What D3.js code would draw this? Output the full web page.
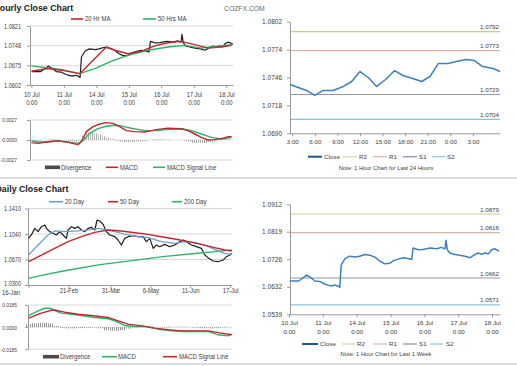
<!DOCTYPE html>
<html>
<head>
<meta charset="utf-8">
<script src="https://cdn.jsdelivr.net/npm/d3@7/dist/d3.min.js"></script>
<style>
html,body{margin:0;padding:0;background:#fff;}
svg{display:block;}
</style>
</head>
<body>
<svg id="chart" width="517" height="366"></svg>
<script>
// ================= DATA =================
// Hourly close (hours since 10 Jul 0:00) - drives the hourly chart and the 1-week chart
const hourlyHours = [0.5,7,10,12.5,15,18.4,22,25.5,28,30,32.6,35,36,37,39.7,43,47,50,54,57.4,61,64.5,68,71.6,74,77.5,81,84.6,87,88,91.7,95,100,104.7,108,110.6,111.3,112.3,114,117.7,121,124.8,128.4,132,134.3,136.6,139,141.4,143.7,146,149];
const hourlyClose = [1.0652,1.0652,1.0663,1.0672,1.0665,1.0652,1.0650,1.0641,1.0638,1.0635,1.0638,1.0634,1.0630,1.0706,1.0728,1.0736,1.0733,1.0736,1.0742,1.0739,1.0733,1.0719,1.0710,1.0712,1.0721,1.0726,1.0731,1.0728,1.0725,1.0764,1.0758,1.0759,1.0764,1.0761,1.0766,1.0761,1.0790,1.0758,1.0747,1.0742,1.0739,1.0736,1.0731,1.0742,1.0747,1.0742,1.0747,1.0744,1.0758,1.0761,1.0753];
const ma20HHours = [0,12.3,22,35.7,55.4,61.6,71.4,81,91.2,101,110.6,120.7,130.6,140.2,148];
const ma20HValues = [1.0653,1.0663,1.0657,1.0644,1.0743,1.0731,1.0718,1.0727,1.0747,1.0759,1.0764,1.0752,1.0739,1.0743,1.0749];
const ma50HHours = [0,12.3,22,35.7,46.8,58.9,71.4,86.2,101,113.3,125.4,135.5,148];
const ma50HValues = [1.0673,1.0665,1.0660,1.0644,1.0663,1.0690,1.0712,1.0731,1.0743,1.0749,1.0739,1.0745,1.0752];
const macdHHours = [0,4.9,12.3,19.7,27.1,34.5,36.9,40.6,45.6,50.5,55.4,60.3,65.3,70.2,76.4,83.8,88.7,93.6,101,110.8,115.8,120.7,125.6,130.6,135.5,141.7,145.3,148];
const macdHValues = [-0.00036,-0.00045,-0.00023,-0.00009,-0.00032,-0.00063,-0.00023,0.00113,0.0018,0.00216,0.00234,0.00225,0.0018,0.00126,0.00113,0.00108,0.00126,0.00144,0.00158,0.00153,0.00126,0.00081,0.00036,0,0.00005,0.00023,0.00045,0.00045];
const signalHHours = [0,4.9,12.3,19.7,27.1,34.5,38.1,43.1,49.2,55.4,61.5,66.4,73.8,83.8,93.6,101,112,118.2,125.6,133,140.4,145.3,148];
const signalHValues = [-0.00009,-0.00027,-0.00027,-0.00014,-0.00027,-0.00045,-0.00009,0.0009,0.00153,0.00185,0.0020,0.0019,0.00158,0.00126,0.00126,0.00144,0.00149,0.00126,0.00081,0.00036,0.00014,0.00027,0.00036];
const divHHours = [0,3,6,9,12,15,18,21,24,27,30,33,36,39,42,45,48,51,54,57,60,63,66,69,72,75,78,81,84,87,90,93,96,99,102,105,108,111,114,117,120,123,126,129,132,135,138,141,144,147];
const divHValues = [-0.0002,-0.0002,-0.0001,0,0.00005,0.0001,0.00005,0,-0.00005,-0.0001,-0.00015,-0.0002,-0.0001,0.0005,0.001,0.0011,0.0009,0.0007,0.0005,0.0003,0.0001,-0.0001,-0.0002,-0.0003,-0.0003,-0.0003,-0.0002,-0.0002,-0.0001,0,0.0001,0.0001,0.0001,0.00005,0.00005,0,0,0,-0.0001,-0.0002,-0.0004,-0.0004,-0.0004,-0.0004,-0.0003,-0.0002,0,0.0001,0.0002,0.0001];
const hourTickHours = [0,24,48,72,96,120,144];
const hourTickDays = ["10 Jul","11 Jul","14 Jul","15 Jul","16 Jul","17 Jul","18 Jul"];
const hourTickTime = "0:00";
const hourlyYTicks = [1.0602,1.0675,1.0748,1.0821];
const macdHYTicks = [-0.0027,0,0.0027];

// Daily (days since 16-Jan)
const closeDDays = [0,2.5,5.6,8.6,11.6,14.6,16.1,19.1,22.1,25.1,28.2,31.2,34.1,35.7,38.7,41.7,44.7,47.7,50.8,53.7,56.7,59.8,61.9,64.3,67.3,70.3,73.4,77.9,80.8,83.8,86.9,89.9,94.4,98.9,103.4,106.4,109.5,112.5,115.5,118.5,123,127.5,132,136.6,139.6,142.5,147,151.6,156,159.2,162,166.7,171,175.7,178.7,181.8,183.5];
const closeDValues = [1.0977,1.1026,1.1122,1.1074,1.1146,1.1171,1.1122,1.1074,1.1050,1.1026,1.1074,1.1026,1.0977,1.1098,1.1146,1.1122,1.1146,1.1098,1.1074,1.1122,1.1137,1.1098,1.1243,1.1229,1.1180,1.1074,1.1026,1.1001,1.0953,1.0880,1.0977,1.1001,1.1016,1.1001,1.1001,1.0929,1.0977,1.0832,1.0880,1.0856,1.0890,1.0856,1.0880,1.0929,1.0953,1.0929,1.0880,1.0856,1.0832,1.0735,1.0697,1.0648,1.0638,1.0662,1.0711,1.0735,1.0759];
const ma20DDays = [0,8.6,17.6,23.6,32.6,44.7,53.7,62.7,68.8,77.8,89.9,98.9,107.9,120,132,141,150,159,168,177,183.5];
const ma20DValues = [1.0735,1.0880,1.1026,1.1084,1.1074,1.1084,1.1098,1.1122,1.1108,1.1074,1.1026,1.1001,1.0987,1.0929,1.0905,1.0929,1.0919,1.0880,1.0817,1.0759,1.0745];
const ma50DDays = [0,11.6,23.6,35.7,47.7,59.8,71.8,83.8,95.9,107.9,120,132,144,156,168,177,183.5];
const ma50DValues = [1.0638,1.0735,1.0832,1.0929,1.1001,1.1064,1.1098,1.1084,1.1059,1.1035,1.1001,1.0967,1.0929,1.0890,1.0842,1.0808,1.0793];
const ma200DDays = [0,14.9,33.9,64.6,91.7,123.3,153,168.5,183.5];
const ma200DValues = [1.0397,1.0450,1.0510,1.0595,1.0650,1.0715,1.0760,1.0785,1.0810];
const macdDDays = [0,8.6,14.6,19.1,23.6,29.7,35.7,47.7,59.8,71.8,77.8,86.9,95.9,105,117,129,141,153,162,171,180,183.5];
const macdDValues = [0.0097,0.0136,0.0158,0.0158,0.0139,0.0117,0.0111,0.0097,0.0081,0.0070,0.0053,0.0014,0.0006,0.0006,-0.0017,-0.0031,-0.0036,-0.0036,-0.0036,-0.0064,-0.0072,-0.0058];
const signalDDays = [0,11.6,22.1,32.7,44.7,56.7,71.8,80.8,89.9,102,114,126,138,150,162,174,183.5];
const signalDValues = [0.0075,0.0117,0.0145,0.0125,0.0108,0.0097,0.0081,0.0053,0.0025,0.0011,-0.0008,-0.0022,-0.0031,-0.0031,-0.0031,-0.0050,-0.0064];
const divDDays = [0,5,10,15,20,25,30,35,40,45,50,55,60,65,70,75,80,85,90,95,100,105,110,115,120,125,130,135,140,145,150,155,160,165,170,175,180];
const divDValues = [0.0025,0.003,0.0035,0.0038,0.003,0.001,-0.0008,-0.001,-0.001,-0.0008,-0.0008,-0.0006,-0.0004,-0.001,-0.0025,-0.003,-0.003,-0.0025,-0.0012,-0.0004,0.0004,0.0006,0.0004,0,-0.0004,-0.0004,-0.0002,0.0002,0.0003,0.0001,-0.0004,-0.0008,-0.001,-0.001,-0.0008,-0.0005,-0.0002];
const dailyTickDays = [0,36,74,110,146,182];
const dailyTickLabels = ["16-Jan","21-Feb","31-Mar","6-May","11-Jun","17-Jul"];
const dailyYTicks = [1.0300,1.0670,1.1040,1.1410];
const macdDYTicks = [-0.0185,0,0.0185];

// Last 24 hours (hours after 3:00)
const last24Hours = [-0.3,1.9,3.0,4.1,5.4,6.8,7.9,9.0,10.1,11.2,12.4,13.6,14.7,16.0,17.2,18.3,19.4,20.7,21.8,23.1,24.2,25.3,26.7,27.6];
const last24Close = [1.0739,1.0733,1.0728,1.0733,1.0733,1.0737,1.0742,1.0752,1.0746,1.0737,1.0744,1.0753,1.0748,1.0745,1.0742,1.0747,1.0760,1.0760,1.0762,1.0764,1.0763,1.0757,1.0755,1.0752];
const last24TickHours = [0,3,6,9,12,15,18,21,24];
const last24TickLabels = ["3:00","6:00","9:00","12:00","15:00","18:00","21:00","0:00","3:00"];
const last24YTicks = [1.0690,1.0718,1.0746,1.0774,1.0802];
const levelNames = ["R2","R1","S1","S2"];
const levels24 = [1.0792,1.0773,1.0729,1.0704];

// Last week
const weekYTicks = [1.0539,1.0632,1.0726,1.0819,1.0912];
const levelsWeek = [1.0879,1.0816,1.0662,1.0571];

// ================= DRAWING =================
const FONT = "'Liberation Sans', Arial, Helvetica, sans-serif";
const SQ = 0.84; // horizontal squeeze of the lettering in the left-hand panels

const TXT = "#404040", AXIS = "#9a9a9a", GRID = "#cdcdcd";
const RED = "#c0282d", GREEN = "#2db36b", BLUE = "#6d9fc8", BLACK = "#1e1e1e";
const CLOSE_BLUE = "#3d80ba";
const LEVEL_COLORS = ["#c9cd8c","#dcb2a4","#9494aa","#86c2de"];
const LEGEND_LEVEL_COLORS = ["#d8d69e","#e2b6a8","#8c8ca6","#8cc6e0"];
const svg = d3.select("#chart");
svg.append("rect").attr("width",517).attr("height",366).attr("fill","#fff");

const defs = svg.append("defs");
function hatch(id, color){
  defs.append("pattern").attr("id",id).attr("width",2).attr("height",4)
    .attr("patternUnits","userSpaceOnUse")
    .append("rect").attr("width",1).attr("height",4).attr("fill",color);
}
hatch("hatchH","#a8a8a8");
hatch("hatchD","#8f8f8f");

// squeeze texts horizontally around the local origin while keeping their anchor point
function squeeze(sel, k){
  sel.each(function(){
    const t = d3.select(this);
    const x = +(t.attr("x") || 0);
    t.attr("x", x / k).attr("transform", `scale(${k},1)`);
    t.selectAll("tspan").each(function(){
      const s = d3.select(this);
      const sx = +(s.attr("x") || 0);
      s.attr("x", sx / k);
    });
  });
}

function text(x,y,s,o={}){
  const t = svg.append("text").attr("x",x).attr("y",y).text(s)
    .attr("fill",o.fill||TXT).attr("text-anchor",o.anchor||"start")
    .style("font-family",FONT).style("font-size",(o.size||6.3)+"px")
    .style("font-weight",o.weight||"normal");
  if (o.sq) squeeze(t, o.sq);
  return t;
}
function styleAxis(g, fs){
  g.select(".domain").attr("stroke",AXIS);
  g.selectAll(".tick line").attr("stroke",AXIS);
  g.selectAll(".tick text").attr("fill",TXT).style("font-family",FONT).style("font-size",fs+"px");
}
function yAxis(y, x0, ticks, labelRight, fs, sq){
  const g = svg.append("g").attr("transform",`translate(${x0},0)`)
    .call(d3.axisLeft(y).tickValues(ticks).tickFormat(d=>d.toFixed(4))
      .tickSize(3).tickSizeOuter(0).tickPadding(x0-labelRight-3));
  styleAxis(g, fs);
  if (sq) squeeze(g.selectAll(".tick text"), sq);
  return g;
}
function xAxis(x, y0, ticks, fmt, fs){
  const g = svg.append("g").attr("transform",`translate(0,${y0})`)
    .call(d3.axisBottom(x).tickValues(ticks).tickFormat(fmt).tickSize(3).tickSizeOuter(0));
  styleAxis(g, fs);
  return g;
}
function twoLine(g, l1, l2, y1, y2){
  g.selectAll(".tick text").each(function(d,i){
    const t = d3.select(this);
    t.text(null).attr("dy",null).attr("y",null);
    t.append("tspan").attr("x",0).attr("y",y1).text(l1[i]);
    t.append("tspan").attr("x",0).attr("y",y2).text(l2);
  });
}
function grid(x, y, vals, color){
  svg.append("g").selectAll("line").data(vals).join("line")
    .attr("x1",x.range()[0]).attr("x2",x.range()[1])
    .attr("y1",d=>y(d)).attr("y2",d=>y(d))
    .attr("stroke",color||GRID).attr("stroke-width",0.8);
}
function series(x, y, xs, vs, color, w){
  const line = d3.line().x(d=>x(d[0])).y(d=>y(d[1]));
  svg.append("path").datum(d3.zip(xs,vs)).attr("d",line)
    .attr("fill","none").attr("stroke",color).attr("stroke-width",w)
    .attr("stroke-linejoin","round");
}
function bars(x, y, xs, vs, fill){
  const w = Math.abs(x(xs[1]) - x(xs[0]));
  svg.append("g").selectAll("rect").data(d3.zip(xs,vs)).join("rect")
    .attr("x",d=>x(d[0])-w/2).attr("width",w)
    .attr("y",d=>Math.min(y(0),y(d[1]))).attr("height",d=>Math.abs(y(d[1])-y(0)))
    .attr("fill",fill);
}
function legend(y, items, fs, sq){
  items.forEach(it=>{
    if(it.bar){
      svg.append("rect").attr("x",it.x1).attr("y",y-1.8).attr("width",it.x2-it.x1).attr("height",3.6).attr("fill",it.color);
    } else {
      svg.append("line").attr("x1",it.x1).attr("x2",it.x2).attr("y1",y).attr("y2",y)
        .attr("stroke",it.color).attr("stroke-width",it.w||1.6);
    }
    text(it.tx, y+2.4, it.label, {size:fs||6.2, sq:sq});
  });
}

// ---------- Hourly Close Chart ----------
text(-6.5, 11, "Hourly Close Chart", {size:8.8, weight:"bold", fill:"#1a1a1a"});
text(224, 11, "COZFX.COM", {size:6.8, fill:"#666"});
legend(19, [
  {x1:71,x2:83,tx:85,label:"20 Hr MA",color:RED},
  {x1:143,x2:156,tx:158,label:"50 Hrs MA",color:GREEN}
], 7.2, SQ);
const xH = d3.scaleLinear().domain([-1,149]).range([30,233]);
const yH = d3.scaleLinear().domain([1.0602,1.0821]).range([85,26]);
grid(xH, yH, hourlyYTicks.slice(1));
yAxis(yH, 30, hourlyYTicks, 21, 6.6, SQ);
const gxH = xAxis(xH, 85, hourTickHours, null, 7);
twoLine(gxH, hourTickDays, hourTickTime, 12.5, 20);
squeeze(gxH.selectAll(".tick text"), SQ);
series(xH, yH, hourlyHours, hourlyClose, BLACK, 1.2);
series(xH, yH, ma50HHours, ma50HValues, GREEN, 1.4);
series(xH, yH, ma20HHours, ma20HValues, RED, 1.4);

// Hourly MACD
const yMH = d3.scaleLinear().domain([-0.0027,0.0027]).range([160,120]);
grid(xH, yMH, [0.0027,-0.0027]);
grid(xH, yMH, [0], "#d8d8d8");
bars(xH, yMH, divHHours, divHValues, "url(#hatchH)");
yAxis(yMH, 30, macdHYTicks, 17, 5.8, SQ);
series(xH, yMH, signalHHours, signalHValues, GREEN, 1.4);
series(xH, yMH, macdHHours, macdHValues, RED, 1.4);
legend(167.3, [
  {x1:45,x2:60,tx:61,label:"Divergence",color:"#4a4a4a",bar:true},
  {x1:106,x2:118,tx:120,label:"MACD",color:RED},
  {x1:153,x2:165,tx:167,label:"MACD Signal Line",color:GREEN}
], 7.2, SQ);

// separators
svg.append("line").attr("x1",0).attr("x2",517).attr("y1",178).attr("y2",178).attr("stroke","#bdbdbd");
svg.append("line").attr("x1",0).attr("x2",517).attr("y1",364).attr("y2",364).attr("stroke","#bdbdbd");

// ---------- Daily Close Chart ----------
text(-4.5, 192, "Daily Close Chart", {size:8.8, weight:"bold", fill:"#1a1a1a"});
legend(201.7, [
  {x1:49,x2:63,tx:65,label:"20 Day",color:BLUE},
  {x1:108,x2:118,tx:120,label:"50 Day",color:RED},
  {x1:172,x2:182,tx:184,label:"200 Day",color:GREEN}
], 7.2, SQ);
const xD = d3.scaleLinear().domain([-0.5,183.7]).range([28,232]);
const yD = d3.scaleLinear().domain([1.0300,1.1410]).range([285,208.5]);
grid(xD, yD, dailyYTicks.slice(1));
const gyD = yAxis(yD, 28, dailyYTicks, 21, 6.6, SQ);
gyD.selectAll(".tick text").filter(d=>d===dailyYTicks[0]).attr("dy","0.1em");
const gxD = xAxis(xD, 285, dailyTickDays, (d,i)=>dailyTickLabels[i], 7);
gxD.selectAll(".tick text").attr("dy",null).attr("y",8.3);
gxD.selectAll(".tick text").filter((d,i)=>i===0).attr("x",-18).attr("y",9.6);
squeeze(gxD.selectAll(".tick text"), SQ);
series(xD, yD, closeDDays, closeDValues, BLACK, 1.2);
series(xD, yD, ma200DDays, ma200DValues, GREEN, 1.4);
series(xD, yD, ma20DDays, ma20DValues, BLUE, 1.2);
series(xD, yD, ma50DDays, ma50DValues, RED, 1.4);

// Daily MACD
const yMD = d3.scaleLinear().domain([-0.0185,0.0185]).range([349.3,305]);
grid(xD, yMD, [0.0185,-0.0185]);
grid(xD, yMD, [0], "#d8d8d8");
bars(xD, yMD, divDDays, divDValues, "url(#hatchD)");
yAxis(yMD, 28, macdDYTicks, 17, 5.8, SQ);
series(xD, yMD, macdDDays, macdDValues, GREEN, 1.4);
series(xD, yMD, signalDDays, signalDValues, RED, 1.4);
legend(356.7, [
  {x1:43,x2:59,tx:60,label:"Divergence",color:"#4a4a4a",bar:true},
  {x1:102,x2:117,tx:118,label:"MACD",color:GREEN},
  {x1:163,x2:177,tx:179,label:"MACD Signal Line",color:RED}
], 7.2, SQ);

// ---------- Last 24 hours chart ----------
const x24 = d3.scaleLinear().domain([-0.3,27.6]).range([290,500]);
const y24 = d3.scaleLinear().domain([1.0690,1.0802]).range([133.3,21.7]);
function levelLines(x, y, vals){
  vals.forEach((v,i)=>{
    svg.append("line").attr("x1",x.range()[0]).attr("x2",x.range()[1])
      .attr("y1",y(v)).attr("y2",y(v)).attr("stroke",LEVEL_COLORS[i]).attr("stroke-width",1.1);
    text(x.range()[1]-1, y(v)-2.5, v.toFixed(4), {anchor:"end", size:6.2});
  });
}
levelLines(x24, y24, levels24);
yAxis(y24, 290, last24YTicks, 282, 6.5);
xAxis(x24, 133.3, last24TickHours, (d,i)=>last24TickLabels[i], 6.2)
  .selectAll(".tick text").attr("dy",null).attr("y",11);
series(x24, y24, last24Hours, last24Close, CLOSE_BLUE, 1.5);
function levelLegend(y, items){
  legend(y, [
    {x1:items[0][0],x2:items[0][1],tx:items[0][2],label:"Close",color:"#1f558f",w:2}
  ].concat(levelNames.map((n,i)=>({x1:items[i+1][0],x2:items[i+1][1],tx:items[i+1][2],label:n,color:LEGEND_LEVEL_COLORS[i],w:1.2}))), 6.2);
}
levelLegend(156.7, [[308,322,324],[343,357,359],[373,387,389],[403,417,419],[432,445,447]]);
text(386, 170, "Note: 1 Hour Chart for Last 24 Hours", {anchor:"middle", size:5.8});

// ---------- Last week chart ----------
const xW = d3.scaleLinear().domain([0.7,149.6]).range([290,500]);
const yW = d3.scaleLinear().domain([1.0539,1.0912]).range([314.3,204.3]);
levelLines(xW, yW, levelsWeek);
yAxis(yW, 290, weekYTicks, 282, 6.5);
const gxW = xAxis(xW, 314.3, hourTickHours, null, 6.2);
twoLine(gxW, hourTickDays, hourTickTime, 10.5, 19.5);
series(xW, yW, hourlyHours, hourlyClose, CLOSE_BLUE, 1.5);
levelLegend(344, [[302,318,320],[342,355,357],[373,387,389],[403,417,419],[430,443,446]]);
text(386, 356, "Note: 1 Hour Chart for  Last 1 Week", {anchor:"middle", size:5.8});
</script>
</body>
</html>
